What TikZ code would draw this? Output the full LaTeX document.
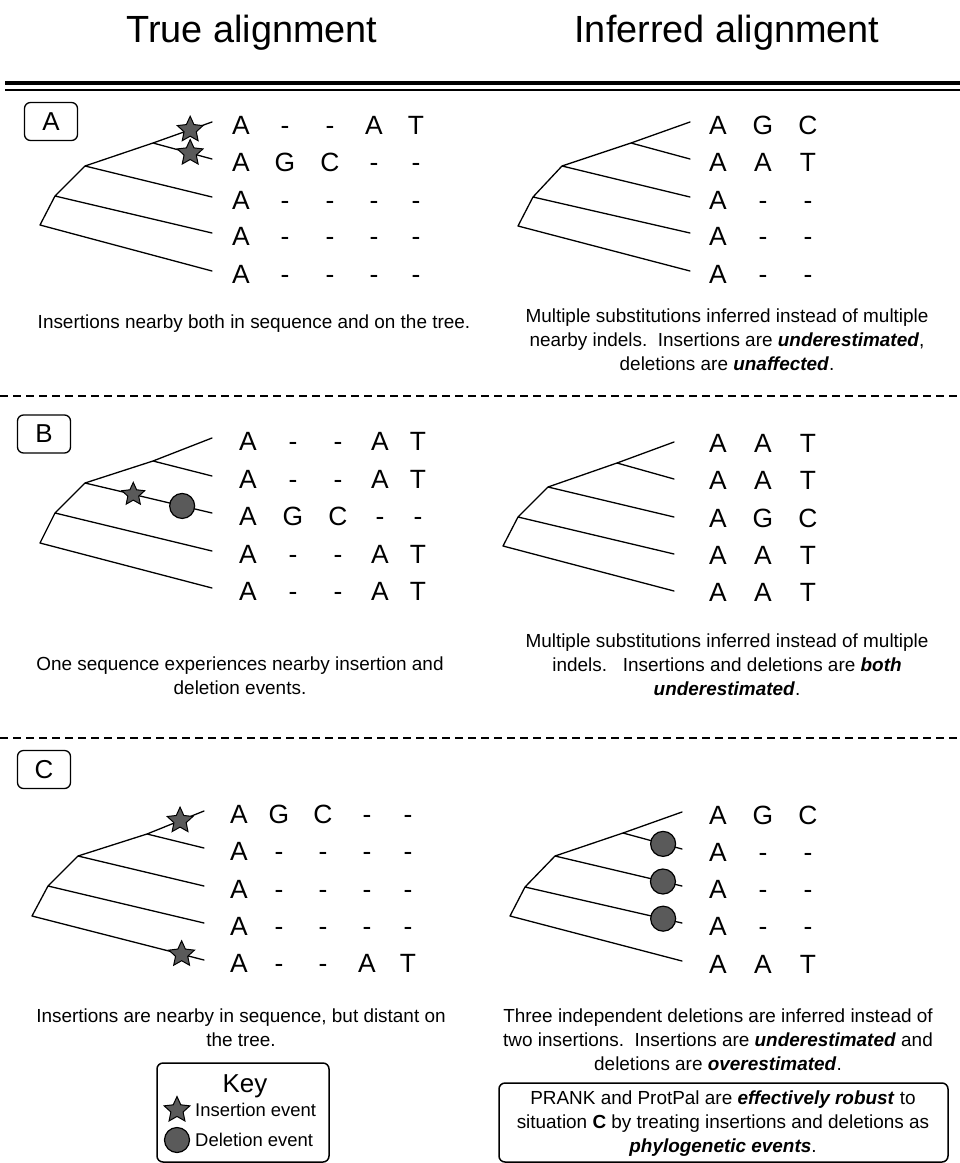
\documentclass[tikz,border=0pt]{standalone}
\usepackage{fontspec}
\setmainfont{Liberation Sans}
\usetikzlibrary{shapes.geometric,calc}
\definecolor{evgray}{HTML}{5A5A5A}
\newcommand\treeedges[1]{\draw[br] (#1t5) -- (#1r) -- (#1n1) -- (#1n2) -- (#1n3) -- (#1t1) (#1n1) -- (#1t4) (#1n2) -- (#1t3) (#1n3) -- (#1t2);}
\begin{document}
\begin{tikzpicture}[x=1bp,y=-1bp,
  br/.style={line width=1.3bp, line join=round, line cap=round},
  seq/.style={anchor=base, inner sep=0, font=\fontsize{26.5}{26.5}\selectfont},
  ins/.style={star, star points=5, star point ratio=2.1, minimum size=27bp, inner sep=0, fill=evgray, draw=black, line width=1bp},
  insb/.style={ins, minimum size=24bp},
  del/.style={circle, minimum size=25bp, inner sep=0, fill=evgray, draw=black, line width=1.2bp},
  lbl/.style={draw, rounded corners=6bp, line width=1.3bp, inner sep=0, minimum width=53bp, minimum height=38bp, font=\fontsize{26}{26}\selectfont},
  body/.style={align=center, inner sep=0, font=\fontsize{19}{24}\selectfont},
  head/.style={anchor=base, inner sep=0, font=\fontsize{38}{38}\selectfont},
  sep/.style={line width=1.5bp, dash pattern=on 8bp off 5bp},
  keybox/.style={draw, rounded corners=6bp, line width=1.5bp}]
\useasboundingbox (0,0) rectangle (960,1163);

% headings
\node[head] (h1) at (252,42) {True alignment};
\node[head] (h2) at (727,42) {Inferred alignment};
\coordinate (dl1) at (5,83); \coordinate (dr1) at (960,83);
\coordinate (dl2) at (5,90); \coordinate (dr2) at (960,90);
\draw[line width=4bp] (dl1) -- (dr1);
\draw[line width=2.5bp] (dl2) -- (dr2);

% ================= A =================
\node[lbl] (labA) at (51,121.5) {A};
% left tree
\coordinate (ALr) at (40,225); \coordinate (ALn1) at (55,196);
\coordinate (ALn2) at (85,166); \coordinate (ALn3) at (153,143);
\coordinate (ALt1) at (212,122); \coordinate (ALt2) at (212,159);
\coordinate (ALt3) at (212,197); \coordinate (ALt4) at (212,233);
\coordinate (ALt5) at (212,271);
\treeedges{AL}
\node[ins] (ALs1) at ($(ALn3)!0.63!(ALt1)$) {};
\node[ins] (ALs2) at ($(ALn3)!0.63!(ALt2)$) {};
\foreach \x/\l [count=\i] in {241/A,285/-,330/-,374/A,416/T} \node[seq] (ALa\i) at (\x,134) {\l};
\foreach \x/\l [count=\i] in {241/A,285/G,330/C,374/-,416/-} \node[seq] (ALb\i) at (\x,171) {\l};
\foreach \x/\l [count=\i] in {241/A,285/-,330/-,374/-,416/-} \node[seq] (ALc\i) at (\x,209) {\l};
\foreach \x/\l [count=\i] in {241/A,285/-,330/-,374/-,416/-} \node[seq] (ALd\i) at (\x,245) {\l};
\foreach \x/\l [count=\i] in {241/A,285/-,330/-,374/-,416/-} \node[seq] (ALe\i) at (\x,283) {\l};
% right tree
\coordinate (ARr) at (518,226); \coordinate (ARn1) at (533,197);
\coordinate (ARn2) at (562,166); \coordinate (ARn3) at (631,143);
\coordinate (ARt1) at (690,122); \coordinate (ARt2) at (690,159);
\coordinate (ARt3) at (690,197); \coordinate (ARt4) at (690,233);
\coordinate (ARt5) at (690,271);
\treeedges{AR}
\foreach \x/\l [count=\i] in {718/A,763/G,808/C} \node[seq] (ARa\i) at (\x,134) {\l};
\foreach \x/\l [count=\i] in {718/A,763/A,808/T} \node[seq] (ARb\i) at (\x,171) {\l};
\foreach \x/\l [count=\i] in {718/A,763/-,808/-} \node[seq] (ARc\i) at (\x,209) {\l};
\foreach \x/\l [count=\i] in {718/A,763/-,808/-} \node[seq] (ARd\i) at (\x,245) {\l};
\foreach \x/\l [count=\i] in {718/A,763/-,808/-} \node[seq] (ARe\i) at (\x,283) {\l};
\node[body] (ALtxt) at (254,324) {Insertions nearby both in sequence and on the tree.};
\node[body] (ARtxt) at (727,340) {Multiple substitutions inferred instead of multiple\\
  nearby indels.\ \ Insertions are \textbf{\textit{underestimated}},\\
  deletions are \textbf{\textit{unaffected}}.};
\coordinate (s1l) at (0,396); \coordinate (s1r) at (960,396);
\draw[sep] (s1l) -- (s1r);

% ================= B =================
\node[lbl] (labB) at (44,434) {B};
\coordinate (BLr) at (40,543); \coordinate (BLn1) at (55,513);
\coordinate (BLn2) at (85,483); \coordinate (BLn3) at (153,461);
\coordinate (BLt1) at (212,438); \coordinate (BLt2) at (212,476);
\coordinate (BLt3) at (212,513); \coordinate (BLt4) at (212,551);
\coordinate (BLt5) at (212,588);
\treeedges{BL}
\node[insb] (BLs) at ($(BLn2)!0.38!(BLt3)$) {};
\node[del] (BLd) at ($(BLn2)!0.765!(BLt3)$) {};
\foreach \x/\l [count=\i] in {248/A,293/-,338/-,380/A,418/T} \node[seq] (BLa\i) at (\x,450) {\l};
\foreach \x/\l [count=\i] in {248/A,293/-,338/-,380/A,418/T} \node[seq] (BLb\i) at (\x,488) {\l};
\foreach \x/\l [count=\i] in {248/A,293/G,338/C,380/-,418/-} \node[seq] (BLc\i) at (\x,525) {\l};
\foreach \x/\l [count=\i] in {248/A,293/-,338/-,380/A,418/T} \node[seq] (BLd\i) at (\x,563) {\l};
\foreach \x/\l [count=\i] in {248/A,293/-,338/-,380/A,418/T} \node[seq] (BLe\i) at (\x,600) {\l};
\coordinate (BRr) at (503,546); \coordinate (BRn1) at (518,517);
\coordinate (BRn2) at (548,487); \coordinate (BRn3) at (617,463);
\coordinate (BRt1) at (674,442); \coordinate (BRt2) at (674,479);
\coordinate (BRt3) at (674,517); \coordinate (BRt4) at (674,554);
\coordinate (BRt5) at (674,591);
\treeedges{BR}
\foreach \x/\l [count=\i] in {718/A,763/A,808/T} \node[seq] (BRa\i) at (\x,452) {\l};
\foreach \x/\l [count=\i] in {718/A,763/A,808/T} \node[seq] (BRb\i) at (\x,489) {\l};
\foreach \x/\l [count=\i] in {718/A,763/G,808/C} \node[seq] (BRc\i) at (\x,527) {\l};
\foreach \x/\l [count=\i] in {718/A,763/A,808/T} \node[seq] (BRd\i) at (\x,564) {\l};
\foreach \x/\l [count=\i] in {718/A,763/A,808/T} \node[seq] (BRe\i) at (\x,601) {\l};
\node[body] (BLtxt) at (240,676) {One sequence experiences nearby insertion and\\ deletion events.};
\node[body] (BRtxt) at (727,665) {Multiple substitutions inferred instead of multiple\\
  indels.\ \ \ Insertions and deletions are \textbf{\textit{both}}\\
  \textbf{\textit{underestimated}}.};
\coordinate (s2l) at (0,738); \coordinate (s2r) at (960,738);
\draw[sep] (s2l) -- (s2r);

% ================= C =================
\node[lbl] (labC) at (44,769.5) {C};
\coordinate (CLr) at (32,916); \coordinate (CLn1) at (48,886);
\coordinate (CLn2) at (78,856); \coordinate (CLn3) at (147,834);
\coordinate (CLt1) at (204,811); \coordinate (CLt2) at (204,848);
\coordinate (CLt3) at (204,886); \coordinate (CLt4) at (204,923);
\coordinate (CLt5) at (204,960);
\treeedges{CL}
\node[ins] (CLs1) at ($(CLn3)!0.58!(CLt1)$) {};
\node[ins] (CLs2) at ($(CLr)!0.87!(CLt5)$) {};
\foreach \x/\l [count=\i] in {239/A,279/G,323/C,367/-,408/-} \node[seq] (CLa\i) at (\x,823) {\l};
\foreach \x/\l [count=\i] in {239/A,279/-,323/-,367/-,408/-} \node[seq] (CLb\i) at (\x,860) {\l};
\foreach \x/\l [count=\i] in {239/A,279/-,323/-,367/-,408/-} \node[seq] (CLc\i) at (\x,898) {\l};
\foreach \x/\l [count=\i] in {239/A,279/-,323/-,367/-,408/-} \node[seq] (CLd\i) at (\x,935) {\l};
\foreach \x/\l [count=\i] in {239/A,279/-,323/-,367/A,408/T} \node[seq] (CLe\i) at (\x,972) {\l};
\coordinate (CRr) at (510,916); \coordinate (CRn1) at (525,887);
\coordinate (CRn2) at (555,856); \coordinate (CRn3) at (623,833);
\coordinate (CRt1) at (682,812); \coordinate (CRt2) at (682,849);
\coordinate (CRt3) at (682,886); \coordinate (CRt4) at (682,923);
\coordinate (CRt5) at (682,961);
\treeedges{CR}
\node[del] (CRd1) at ($(CRn3)!0.68!(CRt2)$) {};
\node[del] (CRd2) at ($(CRn2)!0.85!(CRt3)$) {};
\node[del] (CRd3) at ($(CRn1)!0.88!(CRt4)$) {};
\foreach \x/\l [count=\i] in {718/A,763/G,808/C} \node[seq] (CRa\i) at (\x,824) {\l};
\foreach \x/\l [count=\i] in {718/A,763/-,808/-} \node[seq] (CRb\i) at (\x,861) {\l};
\foreach \x/\l [count=\i] in {718/A,763/-,808/-} \node[seq] (CRc\i) at (\x,898) {\l};
\foreach \x/\l [count=\i] in {718/A,763/-,808/-} \node[seq] (CRd\i) at (\x,935) {\l};
\foreach \x/\l [count=\i] in {718/A,763/A,808/T} \node[seq] (CRe\i) at (\x,973) {\l};
\node[body] (CLtxt) at (241,1028) {Insertions are nearby in sequence, but distant on\\ the tree.};
\node[body] (CRtxt) at (718,1040) {Three independent deletions are inferred instead of\\
  two insertions.\ \ Insertions are \textbf{\textit{underestimated}} and\\
  deletions are \textbf{\textit{overestimated}}.};

% key
\coordinate (k1) at (157,1063); \coordinate (k2) at (329,1162);
\draw[keybox] (k1) rectangle (k2);
\node[inner sep=0, font=\fontsize{26}{26}\selectfont] (keyt) at (245,1086) {Key};
\node[ins] (keys) at (177,1110) {};
\node[del] (keyd) at (177,1140) {};
\node[anchor=west, inner sep=0, font=\fontsize{18.5}{20}\selectfont] (keyi) at (195,1110) {Insertion event};
\node[anchor=west, inner sep=0, font=\fontsize{18.5}{20}\selectfont] (keydl) at (195,1140) {Deletion event};

% PRANK box
\coordinate (p1) at (499,1083); \coordinate (p2) at (948,1162);
\draw[keybox] (p1) rectangle (p2);
\node[body] (ptxt) at (723,1124) {PRANK and ProtPal are \textbf{\textit{effectively robust}} to\\
  situation \textbf{C} by treating insertions and deletions as\\
  \textbf{\textit{phylogenetic events}}.};
\end{tikzpicture}
\end{document}
